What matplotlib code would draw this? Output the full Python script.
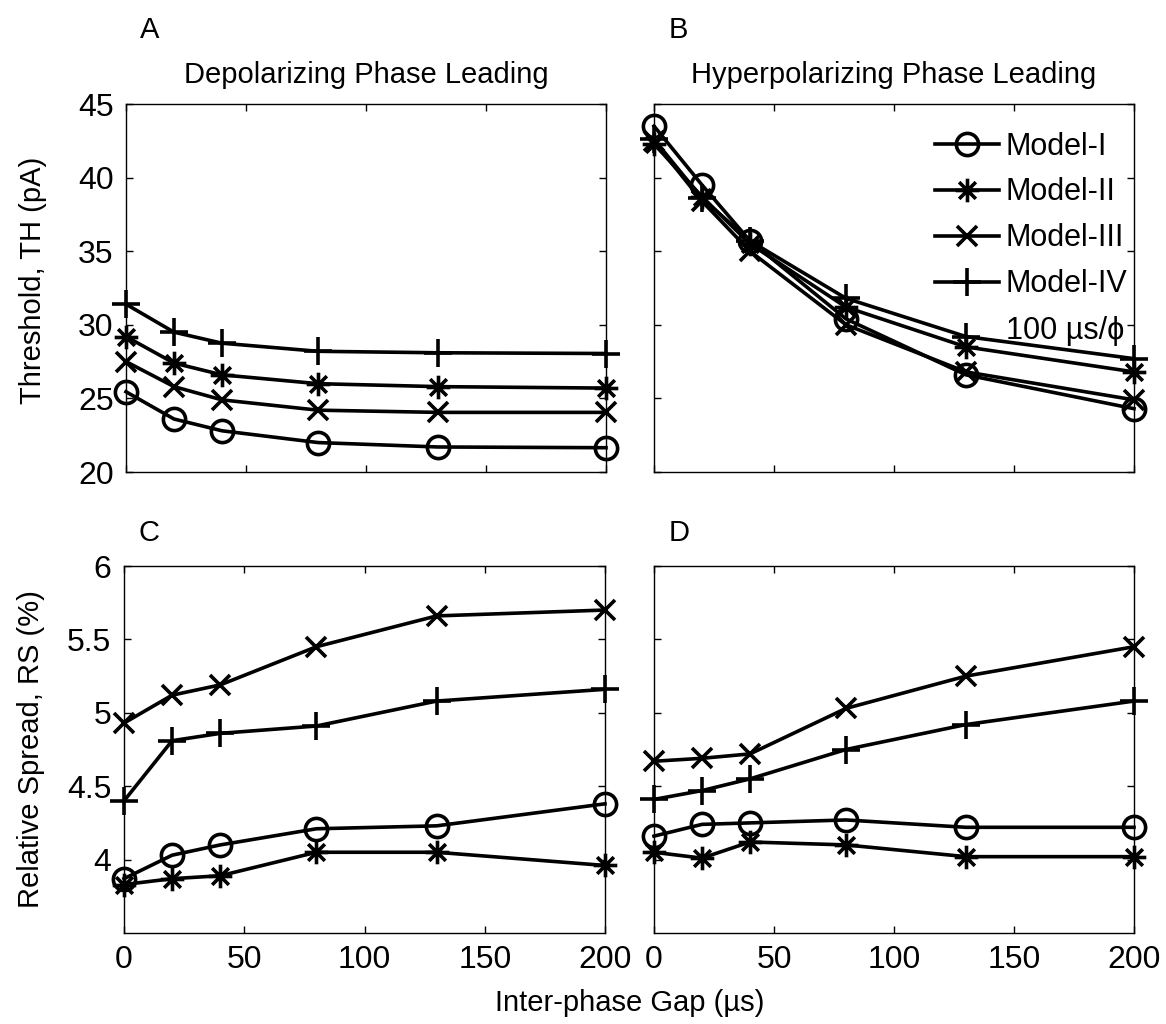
import numpy as np
import matplotlib
matplotlib.use("Agg")
import matplotlib.pyplot as plt
from matplotlib.path import Path

plt.rcParams['font.family'] = ['Liberation Sans', 'DejaVu Sans']

# inter-phase gap (us)
gap = [0, 20, 40, 80, 130, 200]
models = ['Model-I', 'Model-II', 'Model-III', 'Model-IV']

# threshold, depolarizing phase leading (A)
th_dep = {
    'Model-I':   [25.45, 23.6, 22.8, 22.0, 21.7, 21.65],
    'Model-II':  [29.2, 27.4, 26.6, 26.0, 25.8, 25.7],
    'Model-III': [27.5, 25.8, 24.9, 24.2, 24.05, 24.05],
    'Model-IV':  [31.4, 29.5, 28.75, 28.2, 28.1, 28.05],
}
# threshold, hyperpolarizing phase leading (B)
th_hyp = {
    'Model-I':   [43.5, 39.5, 35.7, 30.4, 26.6, 24.3],
    'Model-II':  [42.3, 38.7, 35.5, 31.2, 28.5, 26.8],
    'Model-III': [42.5, 38.4, 35.0, 30.0, 26.8, 24.9],
    'Model-IV':  [42.6, 38.6, 35.7, 31.8, 29.2, 27.7],
}
# relative spread, depolarizing phase leading (C)
rs_dep = {
    'Model-I':   [3.87, 4.03, 4.10, 4.21, 4.23, 4.38],
    'Model-II':  [3.83, 3.87, 3.89, 4.05, 4.05, 3.96],
    'Model-III': [4.93, 5.12, 5.19, 5.45, 5.66, 5.70],
    'Model-IV':  [4.40, 4.81, 4.86, 4.91, 5.08, 5.16],
}
# relative spread, hyperpolarizing phase leading (D)
rs_hyp = {
    'Model-I':   [4.16, 4.24, 4.25, 4.27, 4.22, 4.22],
    'Model-II':  [4.05, 4.01, 4.12, 4.10, 4.02, 4.02],
    'Model-III': [4.67, 4.69, 4.72, 5.03, 5.25, 5.45],
    'Model-IV':  [4.41, 4.47, 4.55, 4.75, 4.92, 5.08],
}

# MATLAB-style asterisk marker
c = 0.7071
asterisk = Path([(-1, 0), (1, 0), (0, -1), (0, 1), (-c, -c), (c, c), (-c, c), (c, -c)],
                [Path.MOVETO, Path.LINETO] * 4)
markers = {'Model-I': 'o', 'Model-II': asterisk, 'Model-III': 'x', 'Model-IV': '+'}
msize = {'Model-I': 16, 'Model-II': 17, 'Model-III': 15, 'Model-IV': 20}

fig = plt.figure(figsize=(11.66, 10.24), dpi=100)
W, H = 1166, 1024


def make_ax(x0, x1, y0, y1):
    return fig.add_axes([x0 / W, 1 - y1 / H, (x1 - x0) / W, (y1 - y0) / H])


axA = make_ax(126, 606, 104, 472)
axB = make_ax(654, 1134, 104, 472)
axC = make_ax(124, 605, 566, 933)
axD = make_ax(654, 1134, 566, 933)

panels = [(axA, th_dep, 'A'), (axB, th_hyp, 'B'), (axC, rs_dep, 'C'), (axD, rs_hyp, 'D')]
for ax, data, letter in panels:
    for m in models:
        ax.plot(gap, data[m], color='black', lw=2.6, marker=markers[m],
                ms=msize[m], mew=2.6, mfc='none', mec='black', label=m,
                clip_on=False)
    ax.set_xlim(0, 200)
    ax.set_xticks([0, 50, 100, 150, 200])
    ax.tick_params(direction='in', top=True, right=True, length=5, width=1,
                   labelsize=23)
    ax.tick_params(axis='x', pad=9)
    ax.tick_params(axis='y', pad=9)
    for s in ax.spines.values():
        s.set_linewidth(1.0)
    ax.text(0.03, 1.2 if letter in 'AB' else 1.09, letter, transform=ax.transAxes,
            fontsize=21, ha='left', va='center')

for ax in (axA, axB):
    ax.set_ylim(20, 45)
    ax.set_yticks([20, 25, 30, 35, 40, 45])
    ax.tick_params(labelbottom=False)
for ax in (axC, axD):
    ax.set_ylim(3.5, 6)
    ax.set_yticks([4, 4.5, 5, 5.5, 6])
    ax.set_yticklabels(['4', '4.5', '5', '5.5', '6'])
for ax in (axB, axD):
    ax.tick_params(labelleft=False)

axA.set_title('Depolarizing Phase Leading', fontsize=21, pad=15)
axB.set_title('Hyperpolarizing Phase Leading', fontsize=21, pad=15)

axA.set_ylabel('Threshold, TH (pA)', fontsize=21)
axC.set_ylabel('Relative Spread, RS (%)', fontsize=21)
axA.yaxis.set_label_coords(-0.165, 0.52)
axC.yaxis.set_label_coords(-0.165, 0.5)

fig.text(630 / W, 1 - 1003 / H, 'Inter-phase Gap (\u00b5s)', fontsize=21,
         ha='center', va='center')

leg = axB.legend(loc='upper right', frameon=False, fontsize=22, handlelength=2.1,
                 handletextpad=0.2, labelspacing=0.52, borderaxespad=0,
                 borderpad=0, bbox_to_anchor=(0.985, 0.925))
axB.text(0.98, 0.383, '100 \u00b5s/\u03d5', transform=axB.transAxes, fontsize=22,
         ha='right', va='center')

fig.savefig('out.png', dpi=100)
